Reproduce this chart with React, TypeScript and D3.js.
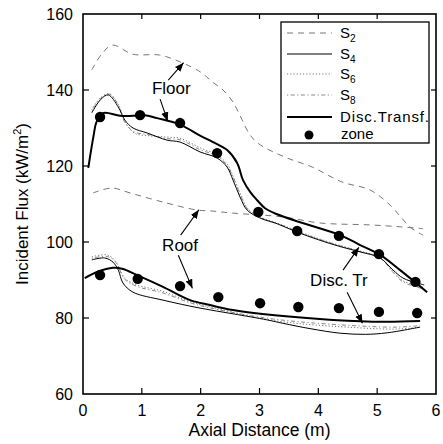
import React from "react";
import * as d3 from "d3";

// ---------- data ----------
const floorS2X = [0.15, 0.32, 0.5, 0.85, 1.3, 1.65, 2.0, 2.2, 2.38, 2.55, 2.7, 2.82, 2.95, 3.12, 3.47, 3.9, 4.4, 4.88, 5.22, 5.4, 5.56, 5.78];
const floorS2Y = [145.3, 149.5, 151.8, 149.4, 149.2, 147.4, 144.7, 142.1, 140, 136.8, 132.3, 128.6, 126.3, 124.6, 122.1, 119.7, 115.8, 113.7, 109.7, 106.6, 103.9, 101.8];

const floorS4X = [0.15, 0.3, 0.43, 0.6, 0.71, 0.85, 1.09, 1.43, 1.65, 1.99, 2.28, 2.45, 2.55, 2.67, 2.79, 3.01, 3.3, 3.64, 4.0, 4.37, 4.71, 5.05, 5.27, 5.44, 5.68, 5.8];
const floorS4Y = [134, 137.5, 138.7, 135.5, 132.1, 130, 128.7, 126.8, 126.3, 123.7, 122.1, 119.7, 116.3, 111.8, 108.4, 106.3, 104.8, 102.6, 100.6, 98.8, 97.4, 95.8, 92.6, 90.5, 89.2, 88.7];

const floorS6X = [0.15, 0.3, 0.45, 0.6, 0.72, 0.88, 1.1, 1.43, 1.65, 1.99, 2.28, 2.45, 2.56, 2.68, 2.8, 3.01, 3.3, 3.64, 4.0, 4.37, 4.71, 5.05, 5.27, 5.44, 5.68, 5.8];
const floorS6Y = [134.8, 138, 139, 136.2, 131.5, 128.6, 128, 127.6, 127.3, 124.8, 122.9, 120.5, 117, 112.5, 108.8, 106.6, 105, 102.9, 100.9, 99.1, 97.6, 95.9, 92.2, 89.8, 88.5, 88];

const floorS8X = [0.15, 0.3, 0.45, 0.6, 0.72, 0.88, 1.1, 1.43, 1.65, 1.99, 2.28, 2.45, 2.56, 2.68, 2.8, 3.01, 3.3, 3.64, 4.0, 4.37, 4.71, 5.05, 5.27, 5.44, 5.68, 5.8];
const floorS8Y = [134.4, 137.9, 138.9, 136, 131.2, 128.9, 128.3, 127.2, 126.9, 124.3, 122.6, 120.1, 116.7, 112.2, 108.6, 106.5, 104.9, 102.8, 100.8, 99, 97.5, 95.8, 92, 89.5, 88.1, 87.6];

const floorDTX = [0.09, 0.18, 0.23, 0.34, 0.63, 0.85, 1.0, 1.26, 1.65, 1.99, 2.21, 2.45, 2.62, 2.72, 2.85, 2.96, 3.1, 3.3, 3.69, 4.37, 4.71, 5.05, 5.39, 5.85];
const floorDTY = [119.5, 128, 131.6, 133.9, 133.2, 133.2, 133.5, 132.6, 130.9, 128, 126.3, 124.2, 120.8, 116.3, 113, 111, 108.8, 107.3, 105.2, 101.8, 99.2, 96.6, 92.6, 86.8];

const roofS2X = [0.17, 0.49, 0.8, 1.36, 1.94, 2.16, 2.55, 3.4, 4.03, 4.88, 5.39, 5.78];
const roofS2Y = [112.9, 114.2, 112.9, 110.5, 108.4, 108.2, 107.6, 106.6, 105, 104.5, 104, 103.5];

const roofS4X = [0.15, 0.37, 0.51, 0.6, 0.68, 0.85, 1.36, 1.99, 2.55, 3.13, 3.4, 3.86, 4.37, 4.8, 5.17, 5.73];
const roofS4Y = [95.3, 95.8, 94.7, 92.6, 89.2, 86.8, 84.7, 82.6, 81.1, 79.5, 78.6, 77.2, 76, 75.7, 76.1, 77.6];

const roofS6X = [0.15, 0.41, 0.55, 0.71, 0.92, 1.36, 1.82, 2.3, 3.3, 4.71, 5.34, 5.73];
const roofS6Y = [96.1, 96.6, 95, 90.5, 88.7, 87, 84.3, 82.4, 79.2, 77.4, 77.1, 77.6];

const roofS8X = [0.15, 0.41, 0.55, 0.71, 0.92, 1.36, 1.82, 2.3, 3.3, 4.71, 5.34, 5.73];
const roofS8Y = [95.7, 96.2, 94.8, 90.2, 88.3, 86.6, 84, 82.2, 79.6, 77.9, 77.6, 78];

const roofDTX = [0.03, 0.24, 0.51, 0.68, 0.92, 1.36, 1.82, 2.16, 2.55, 3.4, 4.25, 5.1, 5.73];
const roofDTY = [90.5, 92.1, 93.2, 92.9, 91.3, 88.2, 84.7, 83.4, 82.1, 80.5, 79.5, 79, 79.2];

const floorZoneX = [0.29, 0.97, 1.65, 2.28, 2.98, 3.64, 4.35, 5.03, 5.65];
const floorZoneY = [132.9, 133.4, 131.3, 123.4, 107.9, 102.9, 101.6, 96.8, 89.5];
const roofZoneX = [0.29, 0.93, 1.65, 2.3, 3.01, 3.66, 4.35, 5.03, 5.68];
const roofZoneY = [91.3, 90.3, 88.4, 85.5, 83.9, 82.9, 82.6, 81.6, 81.3];

const xTicks = [0, 1, 2, 3, 4, 5, 6];
const yTicks = [60, 80, 100, 120, 140, 160];

const annotations = [
  { text: "Floor", tx: 1.5, ty: 140.5, arrows: [[1.45, 142.6, 1.71, 147.2], [1.31, 137.6, 1.44, 131.8]] },
  { text: "Roof", tx: 1.65, ty: 99.2, arrows: [[1.66, 101.8, 1.97, 108.5], [1.62, 96.5, 1.86, 87.8]] },
  { text: "Disc. Tr", tx: 4.35, ty: 90, arrows: [[4.42, 92.6, 4.69, 98.6], [4.49, 86.8, 4.75, 78.6]] },
];

// ---------- layout ----------
const W = 443, H = 444;
const L = 83, R = 436, T = 14, B = 394;
const FONT = "'Liberation Sans', Arial, Helvetica, sans-serif";

export default function App() {
  const x = d3.scaleLinear().domain([0, 6]).range([L, R]);
  const y = d3.scaleLinear().domain([60, 160]).range([B, T]);
  const line = d3
    .line<[number, number]>()
    .x((d) => x(d[0]))
    .y((d) => y(d[1]))
    .curve(d3.curveCatmullRom.alpha(0.5));
  const pts = (xs: number[], ys: number[]) => xs.map((v, i) => [v, ys[i]] as [number, number]);

  const styles = {
    s2: { stroke: "#777", strokeWidth: 1, strokeDasharray: "6,5" },
    s4: { stroke: "#000", strokeWidth: 1 },
    s6: { stroke: "#777", strokeWidth: 1, strokeDasharray: "1.2,2" },
    s8: { stroke: "#888", strokeWidth: 1, strokeDasharray: "1.2,2.5,4,2.5" },
    dt: { stroke: "#000", strokeWidth: 2 },
  };

  const series = [
    { d: pts(floorS2X, floorS2Y), s: styles.s2 },
    { d: pts(roofS2X, roofS2Y), s: styles.s2 },
    { d: pts(floorS6X, floorS6Y), s: styles.s6 },
    { d: pts(roofS6X, roofS6Y), s: styles.s6 },
    { d: pts(floorS8X, floorS8Y), s: styles.s8 },
    { d: pts(roofS8X, roofS8Y), s: styles.s8 },
    { d: pts(floorS4X, floorS4Y), s: styles.s4 },
    { d: pts(roofS4X, roofS4Y), s: styles.s4 },
    { d: pts(floorDTX, floorDTY), s: styles.dt },
    { d: pts(roofDTX, roofDTY), s: styles.dt },
  ];

  const legendRows = [
    { sub: "2", s: styles.s2 },
    { sub: "4", s: styles.s4 },
    { sub: "6", s: styles.s6 },
    { sub: "8", s: styles.s8 },
  ];
  const lgX = 281, lgY = 22, lgW = 148, lgH = 121;
  const rowY = [33, 54, 74, 95, 117, 135];

  return (
    <svg width={W} height={H} style={{ position: "absolute", left: 0, top: 0, background: "#fff" }} fontFamily={FONT}>
      <defs>
        <marker id="ah" viewBox="0 0 10 10" refX="10" refY="5" markerWidth="9" markerHeight="9" markerUnits="userSpaceOnUse" orient="auto">
          <path d="M0,1 L10,5 L0,9 z" fill="#000" />
        </marker>
      </defs>
      <rect x={0} y={0} width={W} height={H} fill="#fff" />

      {series.map((sr, i) => (
        <path key={i} d={line(sr.d) || ""} fill="none" {...sr.s} />
      ))}

      {floorZoneX.map((v, i) => (
        <circle key={"f" + i} cx={x(v)} cy={y(floorZoneY[i])} r={5.2} fill="#000" />
      ))}
      {roofZoneX.map((v, i) => (
        <circle key={"r" + i} cx={x(v)} cy={y(roofZoneY[i])} r={5.2} fill="#000" />
      ))}

      {annotations.map((a, i) => (
        <g key={"a" + i}>
          <text x={x(a.tx)} y={y(a.ty) + 6} fontSize={17} textAnchor="middle">{a.text}</text>
          {a.arrows.map((ar, j) => (
            <line key={j} x1={x(ar[0])} y1={y(ar[1])} x2={x(ar[2])} y2={y(ar[3])} stroke="#000" strokeWidth={1.1} markerEnd="url(#ah)" />
          ))}
        </g>
      ))}

      {/* frame */}
      <rect x={L} y={T} width={R - L} height={B - T} fill="none" stroke="#000" strokeWidth={1.6} />
      {xTicks.slice(1, -1).map((t) => (
        <g key={"xt" + t}>
          <line x1={x(t)} x2={x(t)} y1={B} y2={B - 6} stroke="#000" strokeWidth={1.2} />
          <line x1={x(t)} x2={x(t)} y1={T} y2={T + 5} stroke="#000" strokeWidth={1.2} />
        </g>
      ))}
      {yTicks.slice(1, -1).map((t) => (
        <g key={"yt" + t}>
          <line x1={L} x2={L + 6} y1={y(t)} y2={y(t)} stroke="#000" strokeWidth={1.2} />
          <line x1={R} x2={R - 5} y1={y(t)} y2={y(t)} stroke="#000" strokeWidth={1.2} />
        </g>
      ))}
      {xTicks.map((t) => (
        <text key={"xl" + t} x={x(t)} y={B + 22} fontSize={16} textAnchor="middle">{t}</text>
      ))}
      {yTicks.map((t) => (
        <text key={"yl" + t} x={L - 10} y={y(t) + 6} fontSize={16} textAnchor="end">{t}</text>
      ))}
      <text x={(L + R) / 2} y={436} fontSize={17.5} textAnchor="middle">Axial Distance (m)</text>
      <text transform={`translate(28,${(T + B) / 2}) rotate(-90)`} fontSize={17} textAnchor="middle">
        Incident Flux (kW/m<tspan dy={-7} fontSize={11}>2</tspan><tspan dy={7}>)</tspan>
      </text>

      {/* legend */}
      <rect x={lgX} y={lgY} width={lgW} height={lgH} fill="#fff" stroke="#000" strokeWidth={1.3} />
      {legendRows.map((r, i) => (
        <g key={"lg" + i}>
          <line x1={lgX + 6} x2={lgX + 51} y1={rowY[i]} y2={rowY[i]} fill="none" {...r.s} />
          <text x={lgX + 59} y={rowY[i] + 5} fontSize={15}>
            S<tspan dy={4} fontSize={10}>{r.sub}</tspan>
          </text>
        </g>
      ))}
      <line x1={lgX + 6} x2={lgX + 51} y1={rowY[4]} y2={rowY[4]} {...styles.dt} />
      <text x={lgX + 59} y={rowY[4] + 5} fontSize={15} textLength={89} lengthAdjust="spacing">Disc.Transf.</text>
      <circle cx={lgX + 28} cy={rowY[5]} r={4.5} fill="#000" />
      <text x={lgX + 60} y={rowY[5] + 4} fontSize={15}>zone</text>
    </svg>
  );
}
